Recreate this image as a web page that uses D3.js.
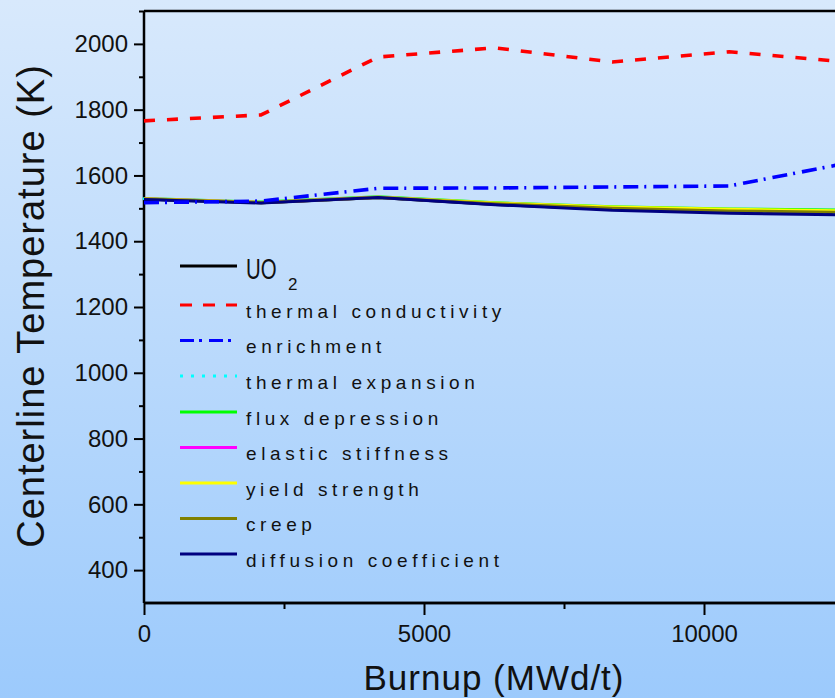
<!DOCTYPE html>
<html>
<head>
<meta charset="utf-8">
<script src="https://cdn.jsdelivr.net/npm/d3@7"></script>
<style>
  html, body { margin: 0; padding: 0; overflow: hidden; }
  svg { display: block; }
  text { font-family: "Liberation Sans", Arial, sans-serif; fill: #111; }
</style>
</head>
<body>
<svg id="chart" width="835" height="698"></svg>
<script>
// ---- data ----
const burnup = [0, 2090, 4180, 6270, 8360, 10450, 12540];
const uo2 = [1528, 1517, 1533, 1512, 1497, 1489, 1484];
const thermalConductivity = [1766, 1784, 1960, 1988, 1945, 1976, 1945];
const enrichment = [1517, 1522, 1561, 1562, 1565, 1568, 1637];
const thermalExpansion = [1529, 1518, 1533, 1514, 1500, 1492, 1487];
const fluxDepression = [1530, 1519, 1535, 1517, 1505, 1498, 1495];
const elasticStiffness = [1529, 1518, 1534, 1515, 1502, 1494, 1490];
const yieldStrength = [1529, 1518, 1534, 1516, 1504, 1497, 1492];
const creep = [1528, 1517, 1533, 1514, 1500, 1492, 1488];
const diffusionCoefficient = [1527, 1516, 1533, 1511, 1494, 1485, 1480];

const seriesNames = ["UO2", "thermal conductivity", "enrichment", "thermal expansion",
  "flux depression", "elastic stiffness", "yield strength", "creep", "diffusion coefficient"];
const seriesValues = [uo2, thermalConductivity, enrichment, thermalExpansion,
  fluxDepression, elasticStiffness, yieldStrength, creep, diffusionCoefficient];
const seriesColors = ["#000000", "#ff0000", "#0000ff", "#00ffff", "#00ff00",
  "#ff00ff", "#ffff00", "#808000", "#000080"];
const seriesDash = [null, "11,12", "15,6,2,7", "2,8", null, null, null, null, null];

const xTicks = [0, 5000, 10000];
const xMinorTicks = [2500, 7500, 12500];
const yTicks = [400, 600, 800, 1000, 1200, 1400, 1600, 1800, 2000];
const yMinorTicks = [500, 700, 900, 1100, 1300, 1500, 1700, 1900, 2100];

// ---- drawing ----
const W = 835, H = 698;
const svg = d3.select("#chart");
const defs = svg.append("defs");
const grad = defs.append("linearGradient").attr("id", "bg")
  .attr("x1", 0).attr("y1", 0).attr("x2", 0).attr("y2", 1);
grad.append("stop").attr("offset", "0%").attr("stop-color", "#d8e9fc");
grad.append("stop").attr("offset", "100%").attr("stop-color", "#9ccafc");
svg.append("rect").attr("width", W).attr("height", H).attr("fill", "url(#bg)");

const x = d3.scaleLinear().domain([0, 15000]).range([144, 144 + 15000 * 280 / 5000]);
const y = d3.scaleLinear().domain([300, 2100]).range([603, 11]);

// frame top line
svg.append("line").attr("x1", x(0)).attr("x2", W + 5).attr("y1", y(2100)).attr("y2", y(2100))
  .attr("stroke", "#000").attr("stroke-width", 2.5);

// axes
const xAxis = svg.append("g").attr("transform", `translate(0,${y(300)})`)
  .call(d3.axisBottom(x).tickValues(xTicks).tickSize(12).tickPadding(10).tickFormat(d3.format("d")));
const xMinor = svg.append("g").attr("transform", `translate(0,${y(300)})`)
  .call(d3.axisBottom(x).tickValues(xMinorTicks).tickSize(6).tickFormat(""));
const yAxis = svg.append("g").attr("transform", `translate(${x(0)},0)`)
  .call(d3.axisLeft(y).tickValues(yTicks).tickSize(10).tickPadding(6).tickFormat(d3.format("d")));
const yMinor = svg.append("g").attr("transform", `translate(${x(0)},0)`)
  .call(d3.axisLeft(y).tickValues(yMinorTicks).tickSize(5).tickFormat(""));

[xAxis, xMinor, yAxis, yMinor].forEach(g => {
  g.select(".domain").attr("stroke", "#000").attr("stroke-width", 2.5);
  g.selectAll(".tick line").attr("stroke", "#000").attr("stroke-width", 2);
  g.selectAll(".tick text").attr("font-size", 24).attr("fill", "#111")
    .attr("font-family", '"Liberation Sans", Arial, sans-serif');
});
xMinor.select(".domain").attr("d", `M${x(0)},0H${W + 5}`);
xAxis.select(".domain").attr("d", `M${x(0)},0H${W + 5}`);
yAxis.select(".domain").attr("d", `M0,${y(2100)}V${y(300)}`);
yMinor.select(".domain").remove();

// series lines
const line = d3.line().x((d, i) => x(burnup[i])).y(d => y(d)).curve(d3.curveLinear);
const order = [0, 3, 4, 5, 6, 7, 8, 2, 1];
order.forEach(k => {
  svg.append("path").datum(seriesValues[k])
    .attr("d", line)
    .attr("fill", "none")
    .attr("stroke", seriesColors[k])
    .attr("stroke-width", k === 1 || k === 2 ? 3.6 : 3)
    .attr("stroke-dasharray", seriesDash[k])
    .attr("stroke-linejoin", "round")
    .attr("stroke-linecap", k === 3 ? "round" : "butt");
});

// legend
const legendRowY = [266, 305, 340.5, 376, 412, 447.5, 483, 518.5, 554];
const lg = svg.append("g");
seriesNames.forEach((name, k) => {
  const ry = legendRowY[k];
  lg.append("line").attr("x1", 180).attr("x2", 237).attr("y1", ry).attr("y2", ry)
    .attr("stroke", seriesColors[k]).attr("stroke-width", 3)
    .attr("stroke-dasharray", k === 1 ? "12,11" : k === 2 ? "14,5,3,7" : k === 3 ? "3,8" : null);
  if (k === 0) {
    lg.append("text").attr("transform", "translate(246,279) scale(0.68,1)")
      .attr("font-size", 30).text("UO");
    lg.append("text").attr("x", 288).attr("y", 290).attr("font-size", 17).text("2");
  } else {
    lg.append("text").attr("x", 246).attr("y", ry + 12.5).attr("font-size", 19)
      .attr("letter-spacing", "4.6px").text(name);
  }
});

// axis titles
svg.append("text").attr("x", 494).attr("y", 690).attr("text-anchor", "middle")
  .attr("font-size", 35).attr("letter-spacing", "1px").text("Burnup (MWd/t)");
svg.append("text").attr("transform", "translate(44,306) rotate(-90)")
  .attr("text-anchor", "middle").attr("font-size", 38).attr("letter-spacing", "1px")
  .text("Centerline Temperature (K)");
</script>
</body>
</html>
